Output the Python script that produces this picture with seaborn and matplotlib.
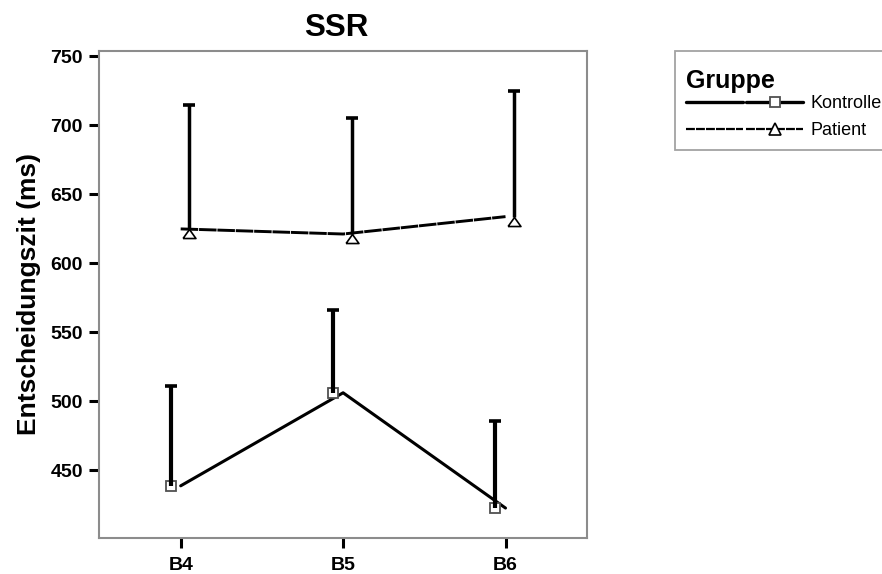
import numpy as np
import pandas as pd
import matplotlib
matplotlib.use("Agg")
import matplotlib.pyplot as plt
from matplotlib.lines import Line2D
from matplotlib.legend_handler import HandlerTuple
import seaborn as sns

# ---- data ----
categories = ["B4", "B5", "B6"]
groups = ["Kontrolle", "Patient"]
kontrolle_mean = [438.8, 506.2, 422.7]
kontrolle_upper = [511.1, 566.2, 485.7]
patient_mean = [624.9, 621.2, 633.8]
patient_upper = [714.7, 705.1, 724.8]
y_ticks = [450, 500, 550, 600, 650, 700, 750]

sns.set_style("white")
plt.rcParams["font.family"] = ["Liberation Sans", "DejaVu Sans"]
plt.rcParams["text.color"] = "black"
plt.rcParams["axes.labelcolor"] = "black"
plt.rcParams["xtick.color"] = "black"
plt.rcParams["ytick.color"] = "black"

df = pd.DataFrame({
    "pos": list(range(len(categories))) * 2,
    "Kategorie": categories * 2,
    "Gruppe": [groups[0]] * 3 + [groups[1]] * 3,
    "mean": kontrolle_mean + patient_mean,
    "upper": kontrolle_upper + patient_upper,
})

fig = plt.figure(figsize=(8.82, 5.74), dpi=100)
ax = fig.add_axes([0.1128, 0.0627, 0.5524, 0.8490])

sns.lineplot(data=df, x="pos", y="mean", hue="Gruppe", style="Gruppe",
             palette={"Kontrolle": "black", "Patient": "black"},
             dashes={"Kontrolle": "", "Patient": (6, 0.3)},
             legend=False, ax=ax, zorder=3)
for ln, lw in zip(ax.lines, [2.2, 2.1]):
    ln.set_linewidth(lw)

# triangle marker with apex at the data point
tri = [(-1.0, -1.4), (1.0, -1.4), (0.0, 0.0), (-1.0, -1.4)]

styles = {
    "Kontrolle": dict(offset=-0.062, marker="s", ms=7.5, mec="#505050", mew=1.3, stem=3.0),
    "Patient": dict(offset=0.052, marker=tri, ms=13, mec="black", mew=1.2, stem=2.5),
}
for g in groups:
    sub = df[df["Gruppe"] == g]
    st = styles[g]
    x = sub["pos"].to_numpy() + st["offset"]
    ax.plot(x, sub["mean"], ls="none", marker=st["marker"], ms=st["ms"],
            mfc="white", mec=st["mec"], mew=st["mew"], zorder=4)
    ax.vlines(x, sub["mean"], sub["upper"], color="black", lw=st["stem"], zorder=5)
    ax.plot(x, sub["upper"], ls="none", marker="_", ms=8.6, mew=2.6,
            color="black", zorder=5)

ax.set_xlim(-0.5, 2.5)
ax.set_ylim(401, 754)
ax.set_xticks(range(len(categories)))
ax.set_xticklabels(categories, fontsize=14, fontweight="bold")
ax.set_yticks(y_ticks)
ax.set_yticklabels([str(v) for v in y_ticks], fontsize=14, fontweight="bold")
ax.tick_params(axis="both", direction="out", length=7.5, width=2.2,
               color="black", left=True, bottom=True, pad=4.5)
ax.tick_params(axis="x", pad=6.5)
ax.set_xlabel("")
ax.set_ylabel("Entscheidungszit (ms)", fontsize=19, fontweight="bold", labelpad=7)
ax.set_title("SSR", fontsize=22.5, fontweight="bold", pad=10.6, x=0.4865)

for sp in ax.spines.values():
    sp.set_visible(True)
    sp.set_color("#8c8c8c")
    sp.set_linewidth(1.5)

# legend
def handle(ls, lw, marker, ms, mec, mew):
    line_only = Line2D([], [], color="black", ls=ls, lw=lw)
    line_mark = Line2D([], [], color="black", ls=ls, lw=lw, marker=marker,
                       ms=ms, mfc="white", mec=mec, mew=mew)
    return (line_only, line_mark)

h_k = handle("-", 2.4, "s", 7.5, "#505050", 1.3)
h_p = handle((0, (4, 0.5)), 1.6, "^", 9, "black", 1.2)
leg = fig.legend(handles=[h_k, h_p], labels=groups,
                 handler_map={tuple: HandlerTuple(ndivide=None, pad=0.2)},
                 title="Gruppe", loc="upper left",
                 bbox_to_anchor=(675 / 882, 1 - 50.7 / 574),
                 bbox_transform=fig.transFigure, borderaxespad=0,
                 frameon=True, fancybox=False, fontsize=13,
                 title_fontproperties={"weight": "bold", "size": 18},
                 alignment="left", handlelength=6.5, handletextpad=0.4,
                 borderpad=0.6, labelspacing=0.55)
leg.get_frame().set_edgecolor("#8c8c8c")
leg.get_frame().set_linewidth(1.3)
leg.get_title().set_position((0, -7))

fig.savefig("out.png", dpi=100)
